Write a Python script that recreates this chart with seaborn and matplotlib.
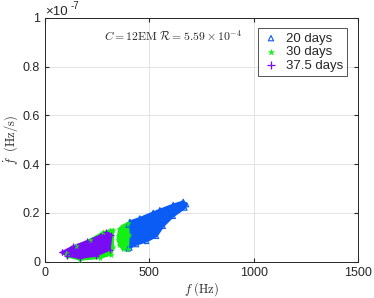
import numpy as np
import pandas as pd
import matplotlib
matplotlib.use('Agg')
import matplotlib.pyplot as plt
import seaborn as sns

# 包络线上的点 (f 单位 Hz, fdot 单位 1e-8 Hz/s)
blue_f = [398, 407, 455, 519, 551, 615, 663, 679, 671, 615, 567, 535, 487, 439, 407, 398]
blue_fd = [1.50, 1.65, 1.79, 2.02, 2.13, 2.34, 2.47, 2.34, 2.20, 1.86, 1.45, 1.04, 0.83, 0.70, 0.56, 0.52]

green_f = [100, 150, 216, 279, 311, 327, 327, 319, 263, 168, 104]
green_fd = [0.35, 0.65, 0.90, 1.20, 1.28, 1.31, 0.60, 0.29, 0.15, 0.08, 0.22]
green2_f = [350, 356, 372, 398, 402, 398, 372, 356, 350]
green2_fd = [1.05, 1.35, 1.48, 1.58, 1.10, 0.52, 0.50, 0.70, 0.90]

purple_f = [80, 136, 200, 263, 295, 319, 311, 247, 168, 104, 80]
purple_fd = [0.38, 0.63, 0.83, 1.06, 1.20, 1.10, 0.49, 0.25, 0.15, 0.25, 0.38]

labels = ['20 days', '30 days', '37.5 days']
colors = ['#0a5cf5', '#14f014', '#7a0cf5']
ytick_labels = ['0', '0.2', '0.4', '0.6', '0.8', '1']

sns.set_style('ticks')
plt.rcParams['font.family'] = ['Liberation Sans', 'DejaVu Sans']
plt.rcParams['mathtext.fontset'] = 'cm'

fig, ax = plt.subplots(figsize=(3.74, 2.98), dpi=100)
fig.subplots_adjust(left=0.12, right=0.957, top=0.94, bottom=0.122)

scale = 1e-8
polys = [
    (blue_f, blue_fd, colors[0]),
    (green_f, green_fd, colors[1]),
    (green2_f, green2_fd, colors[1]),
    (purple_f, purple_fd, colors[2]),
]
for fx, fy, c in polys:
    ax.fill(fx, np.array(fy) * scale, color=c, lw=1.5, ec=c, zorder=2)

# 散点: 边界点加上图例
sns.scatterplot(x=blue_f, y=np.array(blue_fd) * scale, marker='^', s=10,
                facecolors='none', edgecolor=colors[0], linewidth=0.8,
                label=labels[0], ax=ax, zorder=3)
sns.scatterplot(x=green_f + green2_f, y=np.array(green_fd + green2_fd) * scale,
                marker='*', s=14, color=colors[1], edgecolor=colors[1],
                label=labels[1], ax=ax, zorder=3)
sns.scatterplot(x=purple_f, y=np.array(purple_fd) * scale, marker='+', s=18,
                color=colors[2], linewidth=0.9, label=labels[2], ax=ax, zorder=4)

ax.set_xlim(0, 1500)
ax.set_ylim(0, 1e-7)
ax.set_xticks([0, 500, 1000, 1500])
ax.set_yticks(np.arange(0, 1.01e-7, 0.2e-7))
ax.set_yticklabels(ytick_labels)
# 指数标记
ax.text(0.0, 1.0, '\u00d710', transform=ax.transAxes, ha='left',
        va='bottom', fontsize=9.5, color='#262626')
ax.text(0.083, 1.03, '-7', transform=ax.transAxes, ha='left',
        va='bottom', fontsize=7, color='#262626')
ax.grid(True, color='#e3e3e3', lw=0.7, zorder=0)
ax.set_axisbelow(True)
ax.tick_params(direction='in', top=True, right=True, labelsize=9, length=3,
               colors='#262626')
for sp in ax.spines.values():
    sp.set_color('#262626')
    sp.set_linewidth(0.7)

ax.set_xlabel(r'$f\ (\mathrm{Hz})$', fontsize=9, color='#262626', labelpad=1)
ax.set_ylabel(r'$\dot{f}\ \ (\mathrm{Hz/s})$', fontsize=9, color='#262626', labelpad=2)
ax.text(0.41, 0.925, r'$C = 12\mathrm{EM}\ \mathcal{R} = 5.59\times10^{-4}$',
        transform=ax.transAxes, ha='center', va='center', fontsize=8.5,
        color='#262626')

leg = ax.legend(loc='upper right', fontsize=9.5, frameon=True, fancybox=False,
                edgecolor='#262626', borderpad=0.3, labelspacing=0.1,
                handletextpad=0.5, handlelength=1.3, borderaxespad=0.8,
                markerscale=1.2)
leg.get_frame().set_linewidth(0.7)

plt.savefig('out.png', dpi=100)
